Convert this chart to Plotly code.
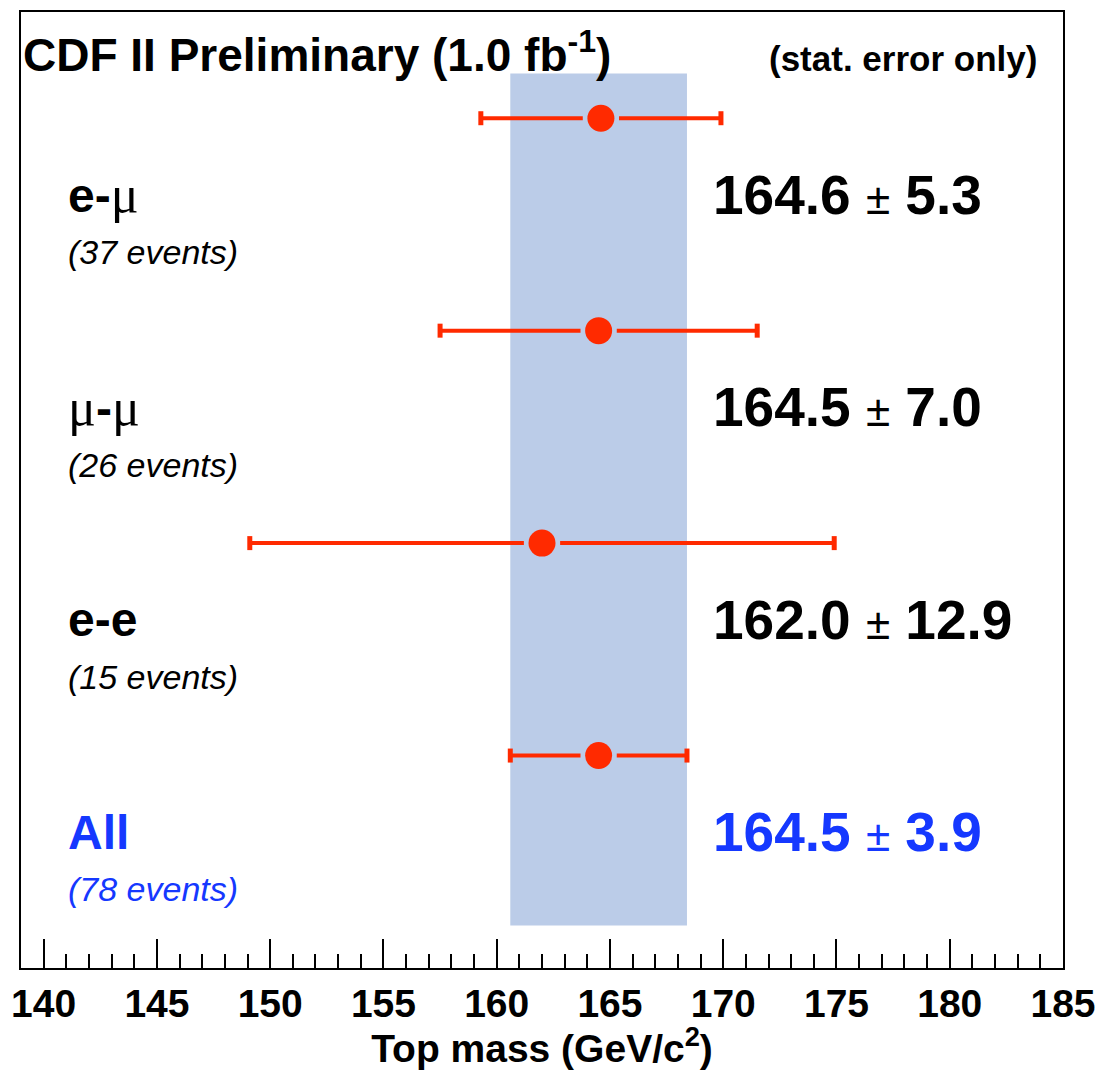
import plotly.graph_objects as go

# ---- data ----
channels = ["e-μ", "μ-μ", "e-e", "All"]
n_events = [37, 26, 15, 78]
mass = [164.6, 164.5, 162.0, 164.5]
stat_err = [5.3, 7.0, 12.9, 3.9]
x_ticks = [140, 145, 150, 155, 160, 165, 170, 175, 180, 185]
label_html = [
    "<b>e-</b><span style=\"font-family:'Liberation Serif',serif;font-weight:normal;font-size:52px\">μ</span>",
    "<span style=\"font-family:'Liberation Serif',serif;font-weight:normal;font-size:52px\">μ</span><b>-</b><span style=\"font-family:'Liberation Serif',serif;font-weight:normal;font-size:52px\">μ</span>",
    "<b>e-e</b>",
    "<b>All</b>",
]

RED = "#ff2a00"
BLUE = "#1538ff"
BAND = "#bbcce8"
FONT = "Liberation Sans, Arial, sans-serif"

n = len(channels)
ypos = [n - i for i in range(n)]
gap = 0.8  # visual gap between marker and error line (axis units)

fig = go.Figure()

# combined band (from the "All" result)
m_all, e_all = mass[-1], stat_err[-1]
fig.add_shape(type="rect", xref="x", yref="y",
              x0=m_all - e_all, x1=m_all + e_all, y0=0.2, y1=4.21,
              fillcolor=BAND, line=dict(width=0), layer="below")

for i in range(n):
    m, e, y = mass[i], stat_err[i], ypos[i]
    fig.add_trace(go.Scatter(x=[m - e, m - gap, None, m + gap, m + e], y=[y, y, None, y, y],
                             mode="lines", line=dict(color=RED, width=4),
                             showlegend=False, hoverinfo="skip"))
    fig.add_trace(go.Scatter(x=[m - e, m + e], y=[y, y], mode="markers",
                             marker=dict(symbol="line-ns", size=10,
                                         line=dict(color=RED, width=5)),
                             showlegend=False, hoverinfo="skip"))
    fig.add_trace(go.Scatter(x=[m], y=[y], mode="markers",
                             marker=dict(symbol="circle", size=27, color=RED),
                             showlegend=False))
    col = BLUE if channels[i] == "All" else "black"
    fig.add_annotation(x=141.0, y=y - 0.36, xref="x", yref="y", xanchor="left", yanchor="middle",
                       text=label_html[i], showarrow=False,
                       font=dict(family=FONT, size=48, color=col))
    fig.add_annotation(x=141.0, y=y - 0.63, xref="x", yref="y", xanchor="left", yanchor="middle",
                       text=f"<i>({n_events[i]} events)</i>", showarrow=False,
                       font=dict(family=FONT, size=34, color=col))
    fig.add_annotation(x=169.45, y=y - 0.36, xref="x", yref="y", xanchor="left", yanchor="middle",
                       text=f"<b>{m:.1f}</b> <span style=\"font-size:44px\">±</span> <b>{e:.1f}</b>",
                       showarrow=False, font=dict(family=FONT, size=55, color=col))

# header texts
fig.add_annotation(x=0, y=0.958, xref="paper", yref="paper", xanchor="left", yanchor="middle",
                   text="<b>CDF II Preliminary (1.0 fb<sup>-1</sup>)</b>", showarrow=False,
                   font=dict(family=FONT, size=46, color="black"))
fig.add_annotation(x=0.977, y=0.951, xref="paper", yref="paper", xanchor="right", yanchor="middle",
                   text="<b>(stat. error only)</b>", showarrow=False,
                   font=dict(family=FONT, size=35, color="black"))

fig.update_layout(
    width=1106, height=1070,
    margin=dict(l=21, r=43, t=10, b=97),
    plot_bgcolor="white", paper_bgcolor="white",
    showlegend=False,
    xaxis=dict(range=[139, 185], tickvals=x_ticks, ticks="inside", ticklen=29,
               tickwidth=1.5, tickcolor="black", showline=True, linewidth=2,
               linecolor="black", mirror=True, showgrid=False, zeroline=False,
               tickfont=dict(family=FONT, size=39, color="black", weight="bold"),
               minor=dict(dtick=1, ticks="inside", ticklen=14, tickwidth=1.5,
                          tickcolor="black", showgrid=False),
               title=dict(text="<b>Top mass (GeV/c<sup>2</sup>)</b>",
                          font=dict(family=FONT, size=39, color="black"), standoff=8)),
    yaxis=dict(range=[0, 4.5], showticklabels=False, ticks="", showline=True,
               linewidth=2, linecolor="black", mirror=True, showgrid=False,
               zeroline=False),
)

fig.write_html("out.html")
